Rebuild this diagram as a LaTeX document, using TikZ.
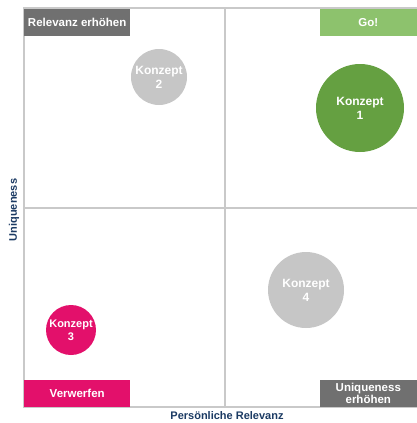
\documentclass[tikz,border=0pt]{standalone}
\usepackage{fontspec}
\setmainfont{Liberation Sans}

\definecolor{framegray}{HTML}{C9C9C9}
\definecolor{boxgray}{HTML}{707070}
\definecolor{gogreen}{HTML}{8DC26D}
\definecolor{konzeptgreen}{HTML}{65A041}
\definecolor{pinkred}{HTML}{E3106B}
\definecolor{lightgray}{HTML}{C6C6C6}
\definecolor{axisblue}{HTML}{1B3A63}

\tikzset{
  tagbox/.style={inner sep=0pt, minimum width=106pt, minimum height=27pt,
    text=white, font=\bfseries\fontsize{11.5}{12}\selectfont, align=center},
  konzept/.style={circle, inner sep=0pt, text=white,
    font=\bfseries\fontsize{12}{14}\selectfont, align=center},
  axislabel/.style={text=axisblue, font=\bfseries\fontsize{11}{12}\selectfont}
}

\begin{document}
\begin{tikzpicture}[x=1pt, y=-1pt]

      \useasboundingbox (0,0) rectangle (417,423);

      % frame and quadrant lines
      \draw[framegray, line width=1.5pt] (417,8) -- (24,8) -- (24,407) -- (417,407);
      \draw[framegray, line width=1.5pt] (225,8) -- (225,407);
      \draw[framegray, line width=1.5pt] (24,208) -- (417,208);

      % corner tags
      \node[tagbox, fill=boxgray, anchor=north west] (relevanz) at (24,9) {Relevanz erhöhen};
      \node[tagbox, fill=gogreen, minimum width=97pt, anchor=north east] (go) at (417,9) {Go!};
      \node[tagbox, fill=pinkred, anchor=south west] (verwerfen) at (24,407) {Verwerfen};
      \node[tagbox, fill=boxgray, minimum width=97pt, anchor=south east,
        font=\bfseries\fontsize{11.5}{12}\selectfont] (uniq) at (417,407) {Uniqueness\\erhöhen};

      % concepts
      \node[konzept, fill=konzeptgreen, minimum size=88pt] (k1) at (360,108) {Konzept\\1};
      \node[konzept, fill=lightgray, minimum size=56pt] (k2) at (159,77) {Konzept\\2};
      \node[konzept, fill=pinkred, minimum size=50pt,
        font=\bfseries\fontsize{11}{13}\selectfont] (k3) at (71,330) {Konzept\\3};
      \node[konzept, fill=lightgray, minimum size=76pt] (k4) at (306,290) {Konzept\\4};

      % axes
      \node[axislabel] (xlabel) at (227,416) {Persönliche Relevanz};
      \node[axislabel, rotate=90] (ylabel) at (14,210) {Uniqueness};

    \end{tikzpicture}
\end{document}
